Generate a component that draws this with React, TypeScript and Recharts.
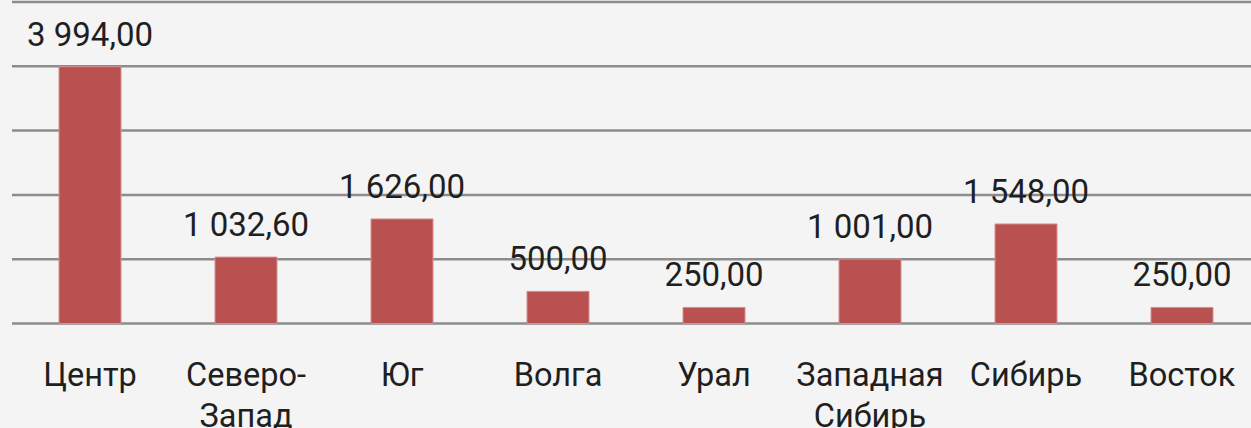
import { BarChart, Bar, XAxis, YAxis, CartesianGrid, LabelList } from "recharts";

const regions = ["Центр", "Северо-Запад", "Юг", "Волга", "Урал", "Западная Сибирь", "Сибирь", "Восток"];
const amounts = [3994, 1032.6, 1626, 500, 250, 1001, 1548, 250];
const yTicks = [0, 1000, 2000, 3000, 4000, 5000];

const data = regions.map((name, i) => ({ name, value: amounts[i] }));

// 3 994,00 style
const fmt = (v: number) => {
  const [int, dec] = v.toFixed(2).split(".");
  return int.replace(/\B(?=(\d{3})+(?!\d))/g, " ") + "," + dec;
};

const CategoryTick = (props: any) => {
  const { x, y, payload } = props;
  const lines = String(payload.value).split(/(?<=-)|\s/);
  return (
    <text x={x} y={y} textAnchor="middle" fill="#1f1f1f" fontSize={32.5} fontFamily="Roboto">
      {lines.map((l: string, i: number) => (
        <tspan key={i} x={x} dy={i === 0 ? 54 : 41}>
          {l}
        </tspan>
      ))}
    </text>
  );
};

export default function App() {
  return (
    <div style={{ position: "fixed", top: 0, left: 0, width: 1251, height: 428, overflow: "hidden", background: "#f3f4f3" }}>
      <BarChart width={1260} height={428} data={data} margin={{ top: 2, right: 0, bottom: 0, left: 12 }} barSize={62}>
        <CartesianGrid vertical={false} stroke="#8c8c8c" strokeWidth={2.5} />
        <XAxis dataKey="name" axisLine={false} tickLine={false} height={104.5} interval={0} tick={<CategoryTick />} />
        <YAxis hide domain={[0, 5000]} ticks={yTicks} />
        <Bar dataKey="value" fill="#b85150" stroke="#d99090" strokeWidth={1} isAnimationActive={false}>
          <LabelList
            dataKey="value"
            position="top"
            offset={21}
            formatter={(v: any) => fmt(Number(v))}
            fill="#1f1f1f"
            fontSize={33}
            fontFamily="Roboto"
          />
        </Bar>
      </BarChart>
    </div>
  );
}
